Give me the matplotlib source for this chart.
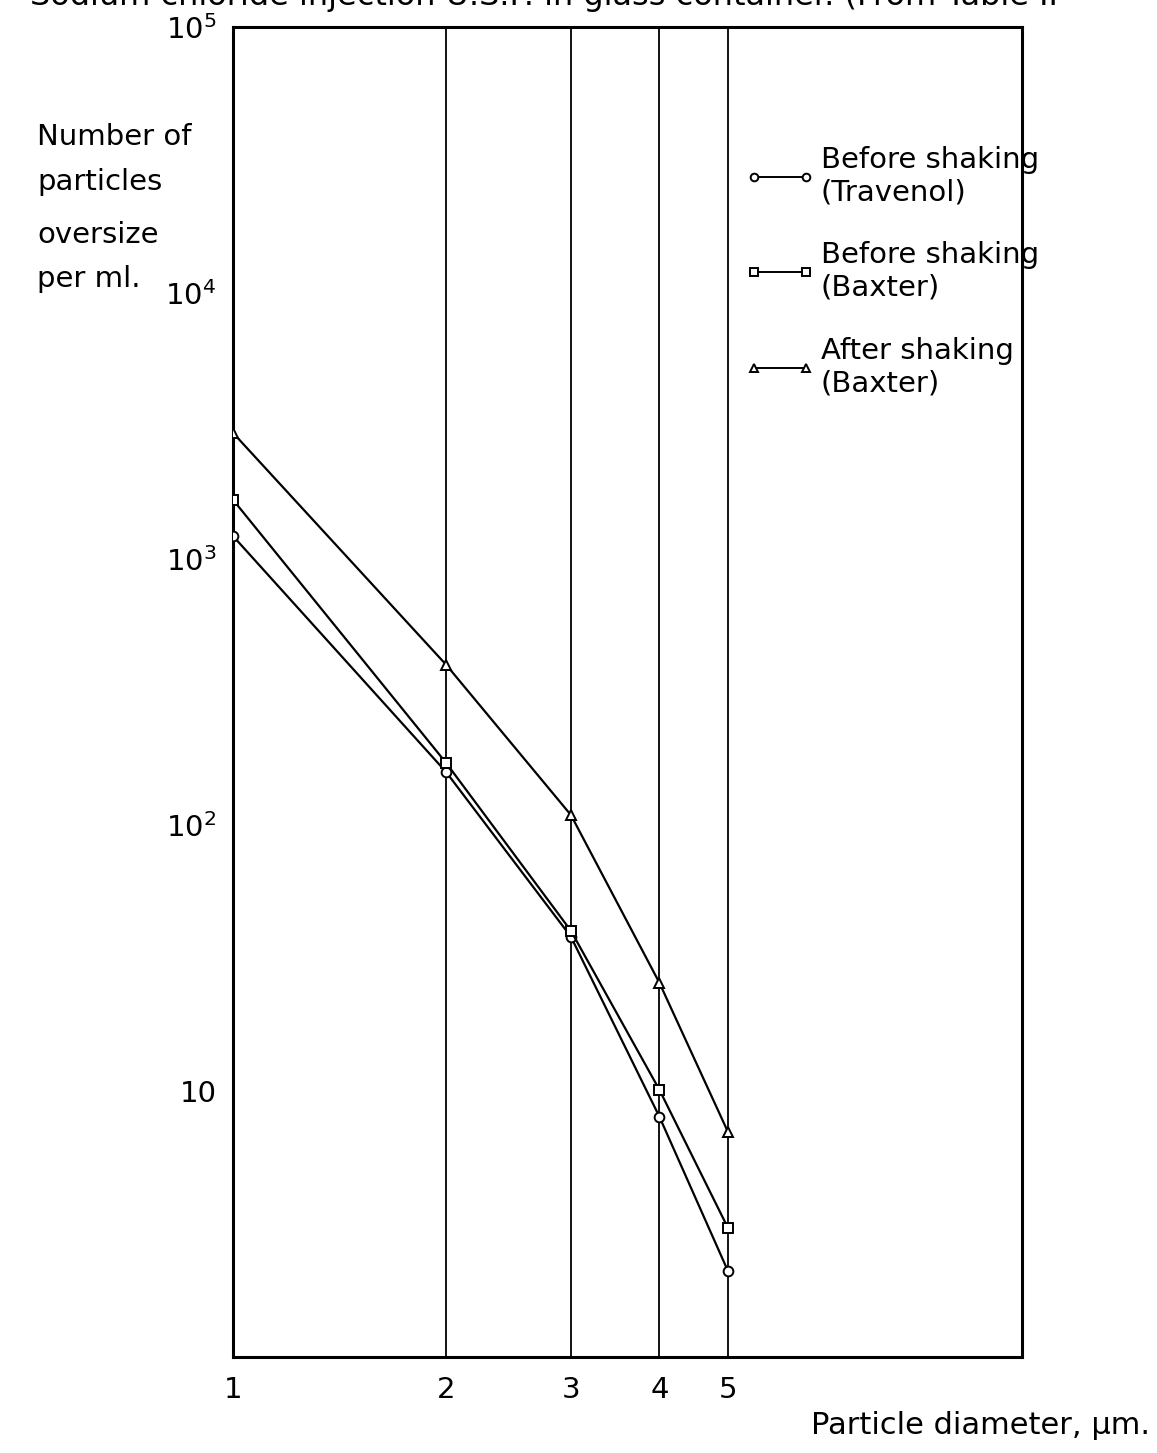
import matplotlib.pyplot as plt
from matplotlib.ticker import FixedLocator, NullLocator

# Particle size (um) and counts oversize per ml
diameters = [1, 2, 3, 4, 5]
before_travenol = [1220, 158, 38, 8.0, 2.1]
before_baxter = [1670, 171, 40, 10.1, 3.05]
after_baxter = [2980, 400, 109, 25.5, 7.0]

series_labels = ["Before shaking\n(Travenol)", "Before shaking\n(Baxter)", "After shaking\n(Baxter)"]
series_markers = ["o", "s", "^"]

y_ticks = [10, 100, 1000, 10000, 100000]
y_tick_labels = ["10", r"$\mathregular{10^2}$", r"$\mathregular{10^3}$", r"$\mathregular{10^4}$", r"$\mathregular{10^5}$"]
x_ticks = [1, 2, 3, 4, 5]

y_label_lines = ["Number of", "particles", "oversize", "per ml."]
y_label_baselines = [145, 190, 243, 287]  # pixel rows from the top

FONTSIZE = 21
plt.rcParams["font.family"] = ["DejaVu Sans"]

fig = plt.figure(figsize=(11.57, 14.53), dpi=100)
ax = fig.add_axes([233 / 1157, 1 - 1357 / 1453, 789 / 1157, 1330 / 1453])

ax.set_xscale("log")
ax.set_yscale("log")
ax.set_xlim(1, 13)
ax.set_ylim(1, 1e5)

for x in x_ticks[1:]:
    ax.axvline(x, color="black", linewidth=1.3, zorder=1)

for values, marker, label in zip(
    [before_travenol, before_baxter, after_baxter], series_markers, series_labels
):
    ax.plot(
        diameters,
        values,
        color="black",
        linewidth=1.6,
        marker=marker,
        markersize=7,
        markerfacecolor="white",
        markeredgecolor="black",
        markeredgewidth=1.4,
        label=label,
        zorder=3,
    )

for side in ["left", "right", "top", "bottom"]:
    ax.spines[side].set_linewidth(2.2)

ax.xaxis.set_major_locator(FixedLocator(x_ticks))
ax.xaxis.set_minor_locator(NullLocator())
ax.set_xticklabels([str(x) for x in x_ticks])
ax.yaxis.set_major_locator(FixedLocator(y_ticks))
ax.yaxis.set_minor_locator(NullLocator())
ax.set_yticklabels(y_tick_labels)
ax.tick_params(axis="both", length=0, labelsize=FONTSIZE)
ax.tick_params(axis="x", pad=14)
ax.tick_params(axis="y", pad=12)

leg = ax.legend(
    loc="upper left",
    bbox_to_anchor=((745 - 233) / 789, 1 - (146 - 27) / 1330),
    frameon=False,
    fontsize=FONTSIZE,
    numpoints=2,
    handlelength=2.4,
    handletextpad=0.2,
    labelspacing=1.2,
    borderpad=0,
    borderaxespad=0,
)
for line in leg.get_lines():
    line.set_linewidth(1.4)
    line.set_markersize(5.5)

# y label written as separate lines, as on the original sheet
for text, base in zip(y_label_lines, y_label_baselines):
    fig.text(37 / 1157, 1 - base / 1453, text,
             fontsize=FONTSIZE, ha="left", va="baseline")

fig.text(
    1150 / 1157, 1 - 1425 / 1453,
    "Particle diameter, µm.",
    fontsize=FONTSIZE + 1, ha="right", va="center",
)
# title is cut off by the top edge in the original scan
fig.text(
    30 / 1157, 1.0 + 4 / 1453,
    "Sodium chloride injection U.S.P. in glass container. (From Table II",
    fontsize=FONTSIZE + 2, ha="left", va="center",
)

fig.savefig("out.png", dpi=100)
